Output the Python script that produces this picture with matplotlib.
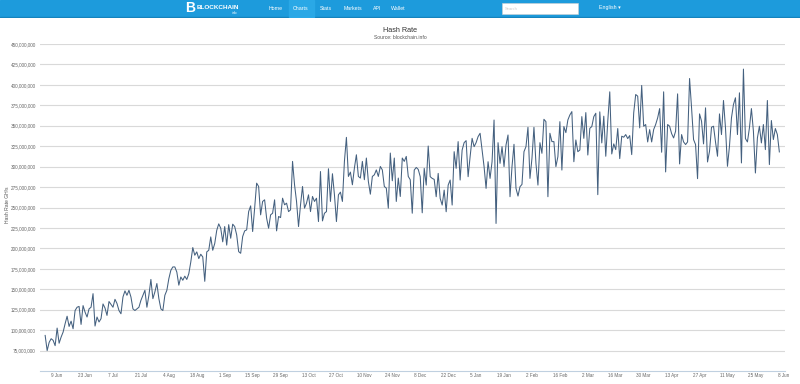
import numpy as np
import matplotlib; matplotlib.use("Agg"); import matplotlib.pyplot as plt
import matplotlib.dates as mdates
from matplotlib.patches import Rectangle
from matplotlib.ticker import FuncFormatter

plt.rcParams['font.family'] = ['Liberation Sans', 'DejaVu Sans']

# daily hash rate, millions of GH/s (Jun 2014 -> Jun 2015)
start_day = np.datetime64('2014-06-03')
hash_m = [
    93.5, 75, 85, 89.5, 87.5, 81, 102.5, 84, 91.5, 97.6, 107.8, 117, 104.5, 111, 101.7, 124, 128, 129, 107, 130,
    122, 116, 126, 128, 144.6, 105, 116, 110, 114, 132, 127, 118, 135, 131.5, 128, 137.7, 132.6, 124, 120, 140.5,
    148, 142.6, 148.7, 140.5, 126, 124, 126, 128, 136.4, 142.6, 148.7, 128, 142.6, 162, 138.5, 146.7, 157, 138.5,
    126, 124, 142.6, 148.7, 163, 173.2, 177.3, 177.3, 171, 155, 165, 161, 166, 162, 169, 183.4, 201, 191.6, 195.7,
    187.5, 192.8, 189.5, 159.7, 195.7, 197.7, 214, 197.7, 206, 222, 230,
    224.7, 208, 226.7, 204, 229, 212.4, 229.6, 226.7, 216.5, 196, 194, 214.5, 221.4, 222.6, 245, 252, 220.6, 249.2,
    279.8, 275.7, 241, 257.4, 259.4, 237, 224.7, 241, 243, 259.4, 221.4, 239, 237.7, 261.4, 253.3, 255.3, 245, 247.1,
    306.4, 277.8, 257.4, 226.7, 253.3, 275.7, 249.2, 255.3, 265.5, 245, 263.5, 257.4, 261.4, 232.8, 294, 233.6, 243,
    245, 297.4, 257.4, 291.3, 265.5, 232.8, 265.5, 268.8, 257.4, 306.4, 335.8, 288, 293.3, 277.8, 298.2, 314.5, 288,
    286, 306.4, 284, 310.5, 281.9, 266.3, 288, 290, 296, 288, 300.2, 296, 275.7, 273.7, 249.2, 316.6, 282.7, 310.5,
    257.4, 286, 263.5, 310.5, 306.4, 312.5, 288, 284,
    243, 295.8, 299, 296.6, 287.7, 243.5, 297.9, 277.4, 325.2, 287.7, 285.6, 284.4, 263.2, 291.7, 261.1, 253, 271.3,
    244.8, 277.4, 283.6, 253, 318.3, 297.9, 330.6, 283.6, 320.3, 329.3, 331.8, 287.7, 312.2, 334.6, 324.4, 329.3,
    336.7, 340.8, 320.3, 300, 273.4, 306, 285.6, 306, 357, 230.5, 329.3, 304, 324.4, 300, 326.5, 338.7, 263.2, 300,
    327.3, 273.4, 264, 275.4, 278.3, 318.3, 324.4, 348.1, 285.6, 310.1, 348.1, 304, 277.4, 329.3, 316.3, 357.9, 355,
    263.2, 340.8, 330.6, 330.6, 300, 312.2, 355, 295.8, 349, 341.6, 357.1, 363.2, 367.3, 306, 332.6, 318.3, 320.3,
    361.2, 334.6, 366.1, 314.2, 346.9, 349, 361.2, 365.3,
    265.7, 367, 329, 361.7, 312.7, 355.6, 391.5, 315.5, 327.8, 320.8, 346.6, 309.8, 337.2, 336, 339.2, 334.3, 338,
    314.7, 365.8, 388.2, 386.2, 347.4, 399.3, 349.4, 351.5, 330.2, 345.3, 330.2, 345.3, 351.5, 359.6, 371, 317.6,
    391.5, 293.5, 351.5, 349.4, 340.4, 335.1, 343.3, 389, 303.3, 339.2, 330.2, 327, 330.2, 407.8, 371.9, 333.1, 327,
    285.3, 364.5, 355.6, 327.8, 371.9, 305.7, 318.8, 348.2, 349.4, 330.2, 312.7, 364.5, 339.2, 380.9, 347.4, 300.4,
    325, 359.6, 376, 384.2, 339.2, 390.3, 304.5, 419.3, 334.3, 330.2, 347.4, 371, 343.3, 292.2, 335.1, 349.4, 329,
    351.5, 320.8, 380.9, 302.5, 356.4, 333.1, 346.6, 339.2, 318,
]
y_ticks = np.arange(75e6, 450e6 + 1, 25e6)
nav_items = ["Home", "Charts", "Stats", "Markets", "API", "Wallet"]
nav_x = [276, 301, 326, 353, 377, 398]

dates = start_day + np.arange(len(hash_m)).astype('timedelta64[D]')
vals = np.array(hash_m) * 1e6

W, H = 800, 384
fig = plt.figure(figsize=(8, 3.84), dpi=100)
fig.patch.set_facecolor("white")

# ---- header bar ----
hd = fig.add_axes([0, 1 - 18 / H, 1, 18 / H])
hd.set_xlim(0, W); hd.set_ylim(18, 0); hd.axis("off")
hd.add_patch(Rectangle((0, 0), W, 18, color="#1d9bdc"))
hd.add_patch(Rectangle((0, 16.5), W, 1.5, color="#1583bd"))
hd.add_patch(Rectangle((289, 0), 25, 16.5, color="#2aa8e6"))
hd.add_patch(Rectangle((502, 3), 76, 11, facecolor="white", edgecolor="#d0d0d0", lw=0.4))
hd.text(505, 8.5, "Search", fontsize=3, color="#cccccc", va="center")
hd.text(190, 8, "B", fontsize=10, color="white", weight="bold", va="center", ha="center")
hd.text(197, 7.5, "BLOCKCHAIN", fontsize=4.6, color="white", weight="bold", va="center")
hd.text(232, 12.8, "info", fontsize=2.5, color="white", va="center")
for name, x in zip(nav_items, nav_x):
    hd.text(x, 8, name, fontsize=3.8, color="white", ha="center", va="center")
hd.text(599, 8, "English \u25be", fontsize=3.8, color="white", va="center")

# ---- titles ----
fig.text(400 / W, 1 - 31 / H, "Hash Rate", ha="center", va="center", fontsize=5.2, color="#333333")
fig.text(400 / W, 1 - 37.5 / H, "Source: blockchain.info", ha="center", va="center", fontsize=3.6, color="#555555")
fig.text(8 / W, 1 - 205 / H, "Hash Rate GH/s", rotation=90, ha="center", va="center", fontsize=3.6, color="#555555")

# ---- chart ----
ax = fig.add_axes([40 / W, 1 - 371 / H, 745 / W, 327 / H])
ax.plot(dates, vals, color="#44607f", lw=0.75, zorder=3)
ax.set_ylim(50e6, 450e6)
ax.set_xlim(np.datetime64('2014-05-31T10'), np.datetime64('2015-06-08T20'))
ax.set_yticks(y_ticks)
ax.yaxis.set_major_formatter(FuncFormatter(lambda v, p: f"{v:,.0f}"))
ax.grid(axis="y", color="#d9d9d9", lw=0.8)
xt = np.arange(np.datetime64('2014-06-09'), np.datetime64('2015-06-09'), 14)
ax.set_xticks(xt)
ax.xaxis.set_major_formatter(FuncFormatter(lambda v, p: f"{mdates.num2date(v).day} {mdates.num2date(v):%b}"))
for s in ["top", "right", "left"]:
    ax.spines[s].set_visible(False)
ax.spines["bottom"].set_color("#c0d0e0"); ax.spines["bottom"].set_linewidth(0.8)
ax.tick_params(axis="y", length=0, labelsize=3.3, labelcolor="#666666", pad=3)
ax.tick_params(axis="x", length=0, labelsize=3.3, labelcolor="#666666", pad=1.5)

fig.savefig("out.png", dpi=100)
